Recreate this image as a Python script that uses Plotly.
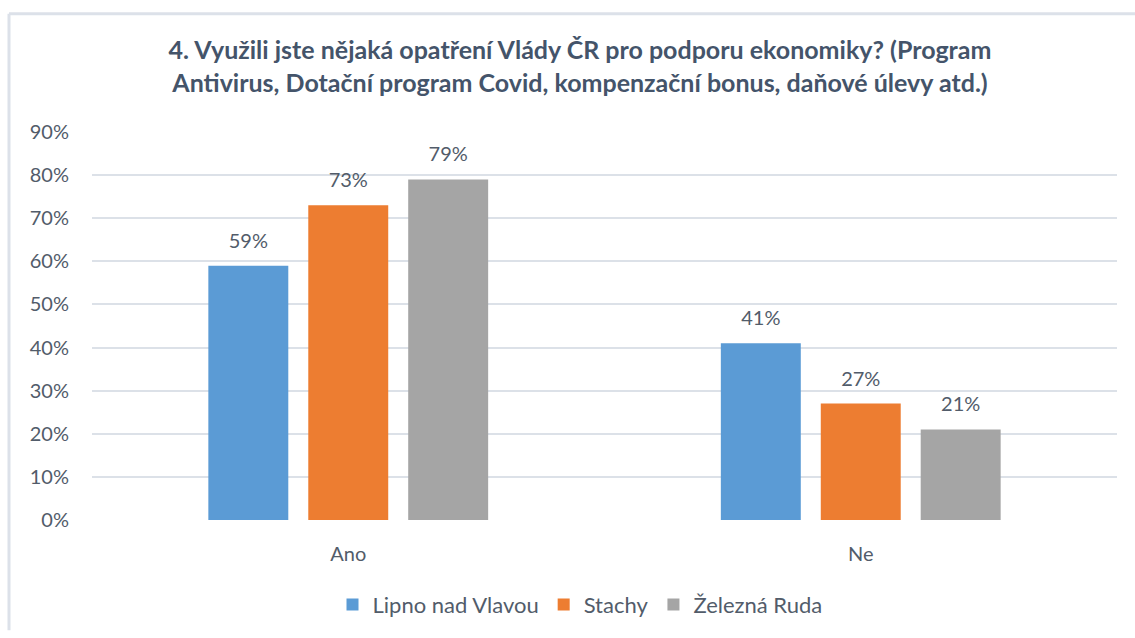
import plotly.graph_objects as go

categories = ["Ano", "Ne"]
series_names = ["Lipno nad Vlavou", "Stachy", "Železná Ruda"]
lipno = [0.59, 0.41]
stachy = [0.73, 0.27]
zelezna = [0.79, 0.21]
colors = ["#5B9BD5", "#ED7D31", "#A5A5A5"]
title_text = ("4. Využili jste nějaká opatření Vlády ČR pro podporu ekonomiky? (Program<br>"
              "Antivirus, Dotační program Covid, kompenzační bonus, daňové úlevy atd.)")
yticks = [0, 0.1, 0.2, 0.3, 0.4, 0.5, 0.6, 0.7, 0.8, 0.9]

W, H = 1135, 638
L, R, T, B = 92, 18, 132, 112
pw, ph = W - L - R, H - T - B

def px_to_paper_x(px):
    return (px - L) / pw

def px_to_paper_y(py):
    return (H - B - py) / ph

font_fam = "Lato, Carlito, 'Open Sans', sans-serif"
text_col = "#525C6A"

fig = go.Figure()
for name, vals, col in zip(series_names, [lipno, stachy, zelezna], colors):
    fig.add_trace(go.Bar(
        x=categories, y=vals, name=name,
        marker=dict(color=col, line=dict(width=0)),
        text=[f"<span style='font-size:20px'>{round(v*100)}%</span><br>&nbsp;" for v in vals],
        textposition="outside", cliponaxis=False,
        textfont=dict(size=10, color=text_col, family=font_fam),
    ))

fig.update_layout(
    width=W, height=H,
    margin=dict(l=L, r=R, t=T, b=B),
    paper_bgcolor="white", plot_bgcolor="white",
    barmode="group", bargap=0.415, bargroupgap=0.2,
    font=dict(family=font_fam, color=text_col, size=20),
    title=dict(text=title_text, x=580 / W,
               xanchor="center", y=1 - 59 / H, yanchor="middle",
               font=dict(size=25, color="#44546A", family=font_fam, weight="bold")),
    showlegend=True,
    legend=dict(orientation="h", x=px_to_paper_x(580), xanchor="center",
                y=px_to_paper_y(612), yanchor="middle",
                font=dict(size=22, color=text_col, family=font_fam),
                itemwidth=30, traceorder="normal"),
    uniformtext=dict(mode=False),
)
fig.update_yaxes(range=[0, 0.9], tickvals=yticks, tickformat=".0%",
                 showgrid=True, gridcolor="#DCE1E8", gridwidth=1.5,
                 zeroline=False, showline=False, ticklabelstandoff=22,
                 tickfont=dict(size=20, color=text_col))
fig.update_xaxes(showgrid=False, showline=False, zeroline=False,
                 ticklabelstandoff=20, tickfont=dict(size=20, color=text_col))

# outer chart frame (top and left edges)
fig.add_shape(type="line", xref="paper", yref="paper",
              x0=px_to_paper_x(9), x1=px_to_paper_x(1135), y0=px_to_paper_y(12), y1=px_to_paper_y(12),
              line=dict(color="#DCE1E9", width=3))
fig.add_shape(type="line", xref="paper", yref="paper",
              x0=px_to_paper_x(9), x1=px_to_paper_x(9), y0=px_to_paper_y(12), y1=px_to_paper_y(638),
              line=dict(color="#DCE1E9", width=3))

fig.write_html("out.html", config={"displayModeBar": False},
               post_script="document.body.style.margin='0';document.body.style.overflow='hidden';")
